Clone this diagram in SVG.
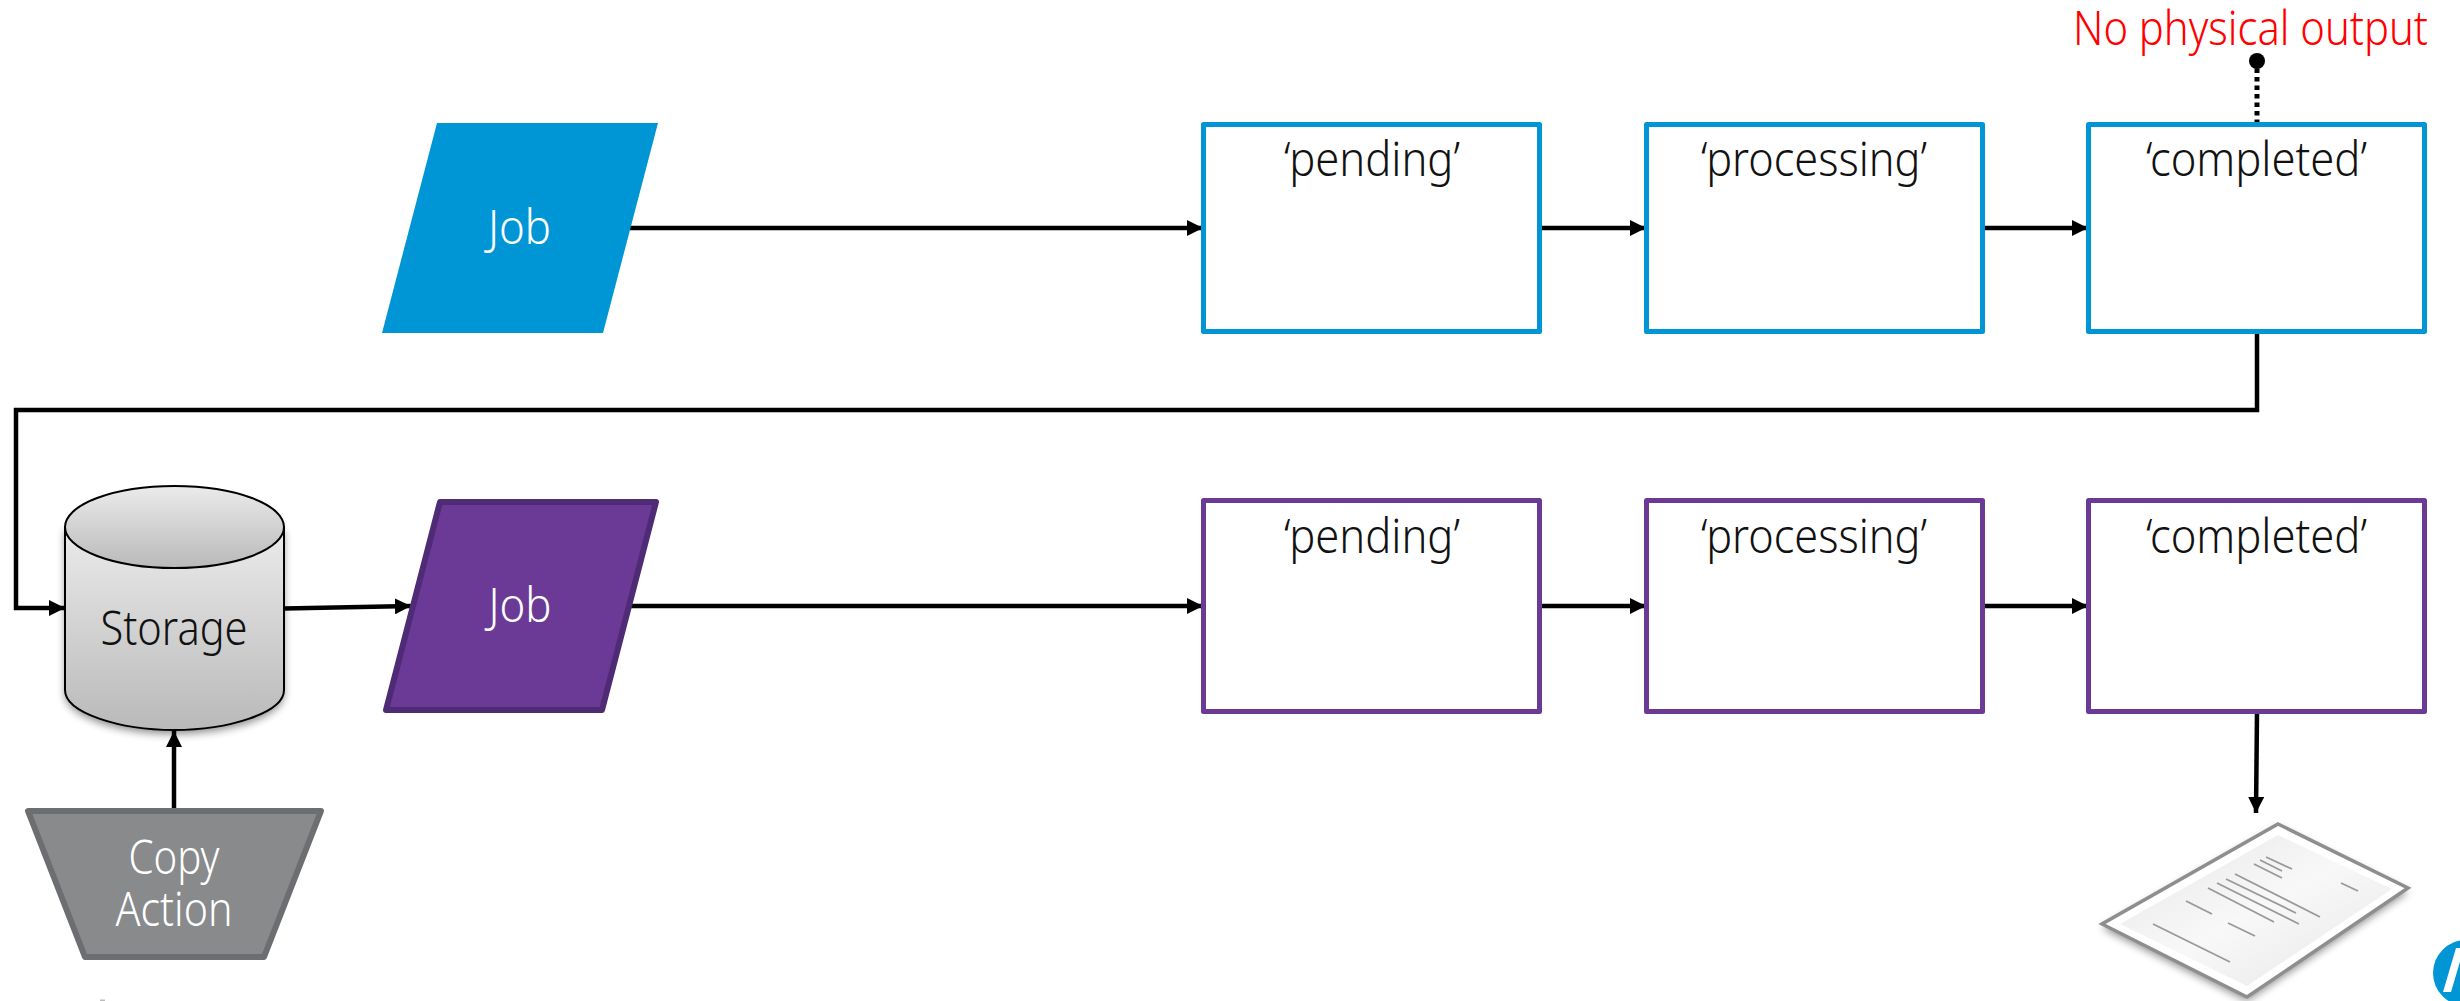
<svg xmlns="http://www.w3.org/2000/svg" width="2460" height="1001" viewBox="0 0 2460 1001">
<style>
text{font-family:"Noto Sans","Open Sans",sans-serif;font-weight:300;font-size:48px;text-anchor:middle;fill:#111}
.w{fill:#fff}
.b{fill:none;stroke:#0096d6;stroke-width:5;stroke-linejoin:round}
.p{fill:none;stroke:#6a3a96;stroke-width:5;stroke-linejoin:round}
.c{fill:none;stroke:#000;stroke-width:4.500}
.pl{fill:none;stroke:#999;stroke-width:1.800}
</style>
<defs>
<marker id="a" markerUnits="userSpaceOnUse" markerWidth="16" markerHeight="16" refX="16" refY="8" orient="auto"><path d="M0 0L16 8L0 16Z" fill="#000"/></marker>
<marker id="d" markerUnits="userSpaceOnUse" markerWidth="16" markerHeight="16" refX="8" refY="8" orient="auto"><circle cx="8" cy="8" r="8" fill="#000"/></marker>
<linearGradient id="g" x1="0" y1="0" x2="0" y2="1"><stop offset="0" stop-color="#ebebeb"/><stop offset="1" stop-color="#b9b9b9"/></linearGradient>
<linearGradient id="g2" x1="0" y1="0" x2="1" y2="1"><stop offset="0" stop-color="#e6e6e6"/><stop offset=".5" stop-color="#f8f8f8"/><stop offset="1" stop-color="#e6e6e6"/></linearGradient>
<filter id="s" x="-20%" y="-20%" width="140%" height="140%"><feGaussianBlur stdDeviation="4"/></filter>
<clipPath id="lc"><rect x="2400" y="920" width="60" height="81"/></clipPath>
</defs>
<g id="connectors">
<path class="c" d="M630 228H1203" marker-end="url(#a)"/>
<path class="c" d="M1541 228H1646" marker-end="url(#a)"/>
<path class="c" d="M1983 228H2088" marker-end="url(#a)"/>
<path class="c" d="M2257 332V410H16V608H65" marker-end="url(#a)"/>
<path class="c" d="M284 608.500L411 606" marker-end="url(#a)"/>
<path class="c" d="M630 606H1203" marker-end="url(#a)"/>
<path class="c" d="M1541 606H1646" marker-end="url(#a)"/>
<path class="c" d="M1983 606H2088" marker-end="url(#a)"/>
<path class="c" d="M174 811V731" marker-end="url(#a)"/>
<path class="c" d="M2257 712L2256 813" marker-end="url(#a)"/>
<path class="c" style="stroke-width:5" d="M2257 124V61" stroke-dasharray="4.500 4" marker-end="url(#d)"/>
</g>
<g id="job1"><path d="M437 123H658L603 333H382Z" fill="#0096d6"/><text class="w" x="519.500" y="244" textLength="63" lengthAdjust="spacingAndGlyphs">Job</text></g>
<g id="pending1"><rect class="b" x="1203.500" y="124.500" width="336" height="207"/><text x="1372" y="176" textLength="176" lengthAdjust="spacingAndGlyphs">‘pending’</text></g>
<g id="processing1"><rect class="b" x="1646.500" y="124.500" width="336" height="207"/><text x="1814" y="176" textLength="226" lengthAdjust="spacingAndGlyphs">‘processing’</text></g>
<g id="completed1"><rect class="b" x="2088.500" y="124.500" width="336" height="207"/><text x="2256.500" y="176" textLength="221" lengthAdjust="spacingAndGlyphs">‘completed’</text></g>
<g id="no-output"><text x="2250.500" y="45" style="fill:#f00" textLength="355" lengthAdjust="spacingAndGlyphs">No physical output</text></g>
<g id="storage">
<path d="M65 527V690C65 713 120 730 174 730S284 713 284 690V527Z" fill="#000" opacity=".45" transform="translate(0 4)" filter="url(#s)"/>
<path d="M65 527V690C65 713 120 730 174 730S284 713 284 690V527Z" fill="url(#g)" stroke="#000" stroke-width="2"/>
<ellipse cx="174.500" cy="527" rx="109.500" ry="41" fill="url(#g)" stroke="#000" stroke-width="2"/>
<text x="174" y="645" textLength="147" lengthAdjust="spacingAndGlyphs">Storage</text>
</g>
<g id="job2"><path d="M440 502H656L602 710H386Z" fill="#6a3a96" stroke="#4f2a75" stroke-width="6" stroke-linejoin="round"/><text class="w" x="520" y="621.500" textLength="63" lengthAdjust="spacingAndGlyphs">Job</text></g>
<g id="pending2"><rect class="p" x="1203.500" y="500.500" width="336" height="211"/><text x="1372" y="552.500" textLength="176" lengthAdjust="spacingAndGlyphs">‘pending’</text></g>
<g id="processing2"><rect class="p" x="1646.500" y="500.500" width="336" height="211"/><text x="1814" y="552.500" textLength="226" lengthAdjust="spacingAndGlyphs">‘processing’</text></g>
<g id="completed2"><rect class="p" x="2088.500" y="500.500" width="336" height="211"/><text x="2256.500" y="552.500" textLength="221" lengthAdjust="spacingAndGlyphs">‘completed’</text></g>
<g id="copy-action"><path d="M28 811H321L264 957H85Z" fill="#888a8c" stroke="#6d6e71" stroke-width="6" stroke-linejoin="round"/><text class="w" x="174" y="874" textLength="91" lengthAdjust="spacingAndGlyphs">Copy</text><text class="w" x="174" y="926" textLength="117" lengthAdjust="spacingAndGlyphs">Action</text></g>
<g id="paper">
<path d="M2278 824L2408 888L2247 997L2102 924Z" fill="#000" opacity=".45" transform="translate(0 4)" filter="url(#s)"/>
<path d="M2278 824L2408 888L2247 997L2102 924Z" fill="#fff" stroke="#8e8e8e" stroke-width="3.500"/>
<path d="M2278 835L2392 889L2247 986L2120 924Z" fill="url(#g2)"/>
<path class="pl" d="M2266 857L2292 869M2260 860L2282 871M2254 864L2282 878M2235 874L2320 917M2226 879L2296 913M2217 883L2299 924M2208 888L2274 922M2186 901L2212 914M2228 923L2255 936M2153 924L2230 962M2341 883L2358 891"/>
</g>
<g id="logo" clip-path="url(#lc)"><circle cx="2466" cy="973" r="33" fill="#0096d6"/><path d="M2443 992L2456 948H2464L2451 992Z" fill="#fff"/></g>
<rect x="100" y="999.500" width="5" height="1.500" fill="#bbb"/>
</svg>
